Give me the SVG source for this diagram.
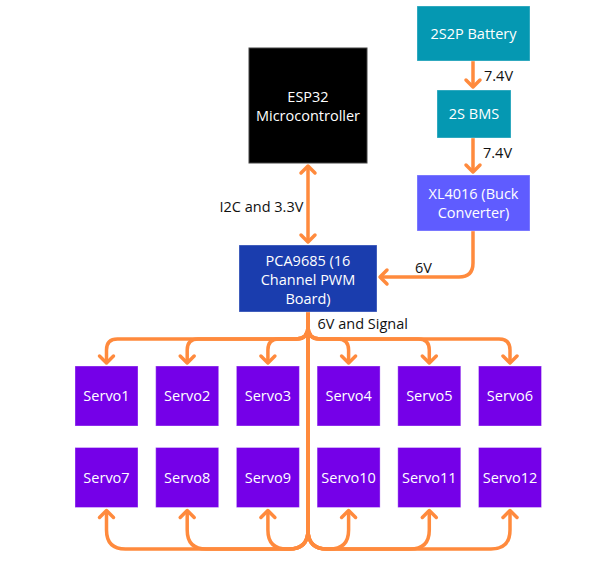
<svg xmlns="http://www.w3.org/2000/svg" width="615" height="582" viewBox="0 0 615 582">
<defs>
<style>
.box{stroke:rgba(255,255,255,0.35);stroke-width:1}
.t{font-family:"Open Sans","Noto Sans",sans-serif;font-size:14.5px;fill:#fff;text-anchor:middle}
.lbl{font-family:"Open Sans","Noto Sans",sans-serif;font-size:14.5px;fill:#111}
.c{fill:none;stroke:#FF8A3D;stroke-width:3.5;stroke-linejoin:round}
</style>
<marker id="ah" markerUnits="userSpaceOnUse" markerWidth="20" markerHeight="20" viewBox="-10 -10 20 20" refX="0" refY="0" orient="auto-start-reverse">
<path d="M-7,-7 L0,0 L-7,7" fill="none" stroke="#FF8A3D" stroke-width="3.5" stroke-linecap="round" stroke-linejoin="round"/>
</marker>
</defs>
<rect width="615" height="582" fill="#fff"/>

<g id="connectors">
<path class="c" d="M473,61 V87" marker-end="url(#ah)"/>
<path class="c" d="M473,138 V172" marker-end="url(#ah)"/>
<path class="c" d="M308,166 V242" marker-start="url(#ah)" marker-end="url(#ah)"/>
<path class="c" d="M473,231 V263 Q473,277 459,277 H380" marker-end="url(#ah)"/>
<!-- top row -->
<path class="c" d="M308,312 V327 Q308,339 296,339 H117.5 Q106.5,339 106.5,350 V363" marker-end="url(#ah)"/>
<path class="c" d="M308,312 V327 Q308,339 296,339 H198.2 Q187.2,339 187.2,350 V363" marker-end="url(#ah)"/>
<path class="c" d="M308,312 V327 Q308,339 296,339 H278.9 Q267.9,339 267.9,350 V363" marker-end="url(#ah)"/>
<path class="c" d="M308,312 V327 Q308,339 320,339 H337.6 Q348.6,339 348.6,350 V363" marker-end="url(#ah)"/>
<path class="c" d="M308,312 V327 Q308,339 320,339 H418.3 Q429.3,339 429.3,350 V363" marker-end="url(#ah)"/>
<path class="c" d="M308,312 V327 Q308,339 320,339 H499 Q510,339 510,350 V363" marker-end="url(#ah)"/>
<!-- bottom row -->
<path class="c" d="M308,312 V530 Q308,549 289,549 H125.5 Q106.5,549 106.5,530 V510.5" marker-end="url(#ah)"/>
<path class="c" d="M308,312 V530 Q308,549 289,549 H206.2 Q187.2,549 187.2,530 V510.5" marker-end="url(#ah)"/>
<path class="c" d="M308,312 V530 Q308,549 289,549 H286.9 Q267.9,549 267.9,530 V510.5" marker-end="url(#ah)"/>
<path class="c" d="M308,312 V530 Q308,549 327,549 H329.6 Q348.6,549 348.6,530 V510.5" marker-end="url(#ah)"/>
<path class="c" d="M308,312 V530 Q308,549 327,549 H410.3 Q429.3,549 429.3,530 V510.5" marker-end="url(#ah)"/>
<path class="c" d="M308,312 V530 Q308,549 327,549 H491 Q510,549 510,530 V510.5" marker-end="url(#ah)"/>
<text class="lbl" x="484" y="81">7.4V</text>
<text class="lbl" x="483" y="158">7.4V</text>
<text class="lbl" x="219.5" y="212">I2C and 3.3V</text>
<text class="lbl" x="415" y="273">6V</text>
<text class="lbl" x="317.5" y="329">6V and Signal</text>
</g>

<g id="battery"><rect class="box" x="417" y="6" width="113" height="55" fill="#0598B2"/><text class="t" x="473.5" y="39">2S2P Battery</text></g>
<g id="bms"><rect class="box" x="437" y="90" width="74" height="48" fill="#0598B2"/><text class="t" x="474" y="119">2S BMS</text></g>
<g id="xl4016"><rect class="box" x="417" y="175" width="113" height="56" fill="#5F5CFF"/><text class="t" x="473.5" y="199">XL4016 (Buck</text><text class="t" x="473.5" y="218">Converter)</text></g>
<g id="esp32"><rect x="249" y="48" width="118" height="115" fill="#000" stroke="#444" stroke-width="1"/><text class="t" x="308" y="102">ESP32</text><text class="t" x="308" y="121">Microcontroller</text></g>
<g id="pca9685"><rect class="box" x="239" y="245" width="138" height="67" fill="#1A3DAE"/><text class="t" x="308" y="266">PCA9685 (16</text><text class="t" x="308" y="284.5">Channel PWM</text><text class="t" x="308" y="304">Board)</text></g>

<g id="servo1"><rect class="box" x="75" y="366" width="63" height="60" fill="#7500E8"/><text class="t" x="106.5" y="401">Servo1</text></g>
<g id="servo2"><rect class="box" x="155.7" y="366" width="63" height="60" fill="#7500E8"/><text class="t" x="187.2" y="401">Servo2</text></g>
<g id="servo3"><rect class="box" x="236.4" y="366" width="63" height="60" fill="#7500E8"/><text class="t" x="267.9" y="401">Servo3</text></g>
<g id="servo4"><rect class="box" x="317.1" y="366" width="63" height="60" fill="#7500E8"/><text class="t" x="348.6" y="401">Servo4</text></g>
<g id="servo5"><rect class="box" x="397.8" y="366" width="63" height="60" fill="#7500E8"/><text class="t" x="429.3" y="401">Servo5</text></g>
<g id="servo6"><rect class="box" x="478.5" y="366" width="63" height="60" fill="#7500E8"/><text class="t" x="510" y="401">Servo6</text></g>
<g id="servo7"><rect class="box" x="75" y="447.5" width="63" height="60" fill="#7500E8"/><text class="t" x="106.5" y="483">Servo7</text></g>
<g id="servo8"><rect class="box" x="155.7" y="447.5" width="63" height="60" fill="#7500E8"/><text class="t" x="187.2" y="483">Servo8</text></g>
<g id="servo9"><rect class="box" x="236.4" y="447.5" width="63" height="60" fill="#7500E8"/><text class="t" x="267.9" y="483">Servo9</text></g>
<g id="servo10"><rect class="box" x="317.1" y="447.5" width="63" height="60" fill="#7500E8"/><text class="t" x="348.6" y="483">Servo10</text></g>
<g id="servo11"><rect class="box" x="397.8" y="447.5" width="63" height="60" fill="#7500E8"/><text class="t" x="429.3" y="483">Servo11</text></g>
<g id="servo12"><rect class="box" x="478.5" y="447.5" width="63" height="60" fill="#7500E8"/><text class="t" x="510" y="483">Servo12</text></g>
</svg>
